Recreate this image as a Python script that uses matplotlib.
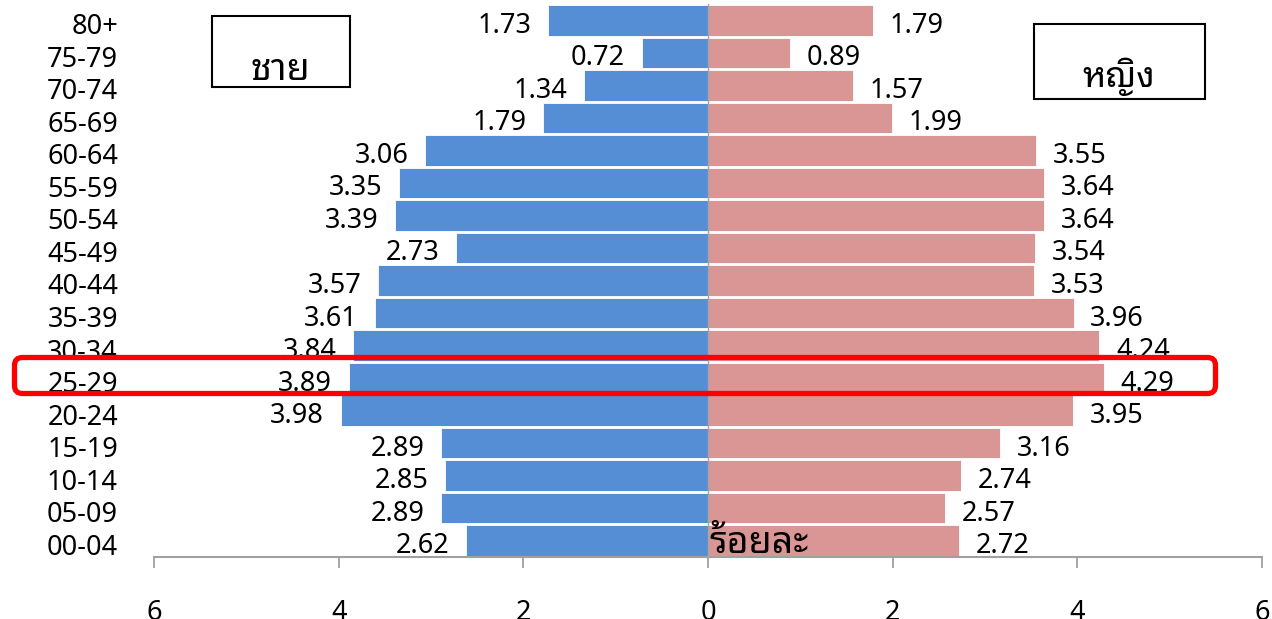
import matplotlib
matplotlib.use("Agg")
import matplotlib.pyplot as plt
from matplotlib.patches import FancyBboxPatch, Rectangle
from matplotlib.transforms import ScaledTranslation, IdentityTransform

ages = ["80+", "75-79", "70-74", "65-69", "60-64", "55-59", "50-54", "45-49",
        "40-44", "35-39", "30-34", "25-29", "20-24", "15-19", "10-14", "05-09", "00-04"]
male = [1.73, 0.72, 1.34, 1.79, 3.06, 3.35, 3.39, 2.73, 3.57, 3.61, 3.84, 3.89,
        3.98, 2.89, 2.85, 2.89, 2.62]
female = [1.79, 0.89, 1.57, 1.99, 3.55, 3.64, 3.64, 3.54, 3.53, 3.96, 4.24, 4.29,
          3.95, 3.16, 2.74, 2.57, 2.72]
xticks = [-6, -4, -2, 0, 2, 4, 6]
xticklabels = ["6", "4", "2", "0", "2", "4", "6"]
male_title = "ชาย"
female_title = "หญิง"
unit_label = "ร้อยละ"

NUM = ["Noto Sans", "DejaVu Sans"]
THAI = ["Noto Sans Thai Looped", "Loma", "Noto Sans", "DejaVu Sans"]
plt.rcParams["font.family"] = NUM

W, H = 1272, 619
def fx(x):
    return x / W
def fy(y):
    return 1 - y / H

fig = plt.figure(figsize=(W / 100, H / 100), dpi=100)
ax = fig.add_axes([fx(154), fy(557), fx(1262) - fx(154), fy(4) - fy(557)])
n = len(ages)
ys = list(range(n))[::-1]
ax.barh(ys, [-v for v in male], height=0.94, color="#558ED5", edgecolor="white", linewidth=0.6, zorder=2)
ax.barh(ys, female, height=0.94, color="#D99694", edgecolor="white", linewidth=0.6, zorder=2)
ax.set_xlim(-6, 6)
ax.set_ylim(-0.5, n - 0.5)
ax.set_yticks(ys)
ax.set_yticklabels(ages, fontsize=19.5)
ax.tick_params(axis="y", length=0, pad=26)
for lab in ax.get_yticklabels():
    lab.set_transform(lab.get_transform() + ScaledTranslation(0, -2.5 / 72, fig.dpi_scale_trans))
ax.set_xticks(xticks)
ax.set_xticklabels(xticklabels, fontsize=19.5)
ax.tick_params(axis="x", length=8, width=1.3, color="#A0A0A0", pad=22)
for s in ["top", "left", "right"]:
    ax.spines[s].set_visible(False)
ax.spines["bottom"].set_color("#A0A0A0")
ax.spines["bottom"].set_linewidth(1.5)
ax.axvline(0, color="#A6A6A6", lw=1, zorder=3)

for y, m, f in zip(ys, male, female):
    ax.annotate(f"{m:.2f}", (-m, y), xytext=(-12, -9), textcoords="offset points",
                ha="right", va="baseline", fontsize=19.5, zorder=4)
    ax.annotate(f"{f:.2f}", (f, y), xytext=(12, -9), textcoords="offset points",
                ha="left", va="baseline", fontsize=19.5, zorder=4)

# title boxes
fig.patches.append(Rectangle((fx(212), fy(87)), fx(350) - fx(212), fy(16) - fy(87),
                             transform=fig.transFigure, facecolor="white", edgecolor="black", lw=1.5))
fig.patches.append(Rectangle((fx(1034), fy(99)), fx(1205) - fx(1034), fy(24) - fy(99),
                             transform=fig.transFigure, facecolor="white", edgecolor="black", lw=1.5))
fig.text(fx(280), fy(80), male_title, ha="center", va="baseline", fontsize=27,
         fontweight="bold", family=THAI)
fig.text(fx(1119), fy(87), female_title, ha="center", va="baseline", fontsize=25.5,
         fontweight="bold", family=THAI)
fig.text(fx(709), fy(553), unit_label, ha="left", va="baseline", fontsize=27,
         fontweight="bold", family=THAI, zorder=5)

# highlight rectangle around the 25-29 row (display pixels)
fig.patches.append(FancyBboxPatch((14.5, H - 393.5), 1201, 36,
                                  boxstyle="round,pad=0,rounding_size=8",
                                  transform=IdentityTransform(), fill=False,
                                  edgecolor="#FF0000", lw=3.8, zorder=10))
fig.savefig("out.png")
